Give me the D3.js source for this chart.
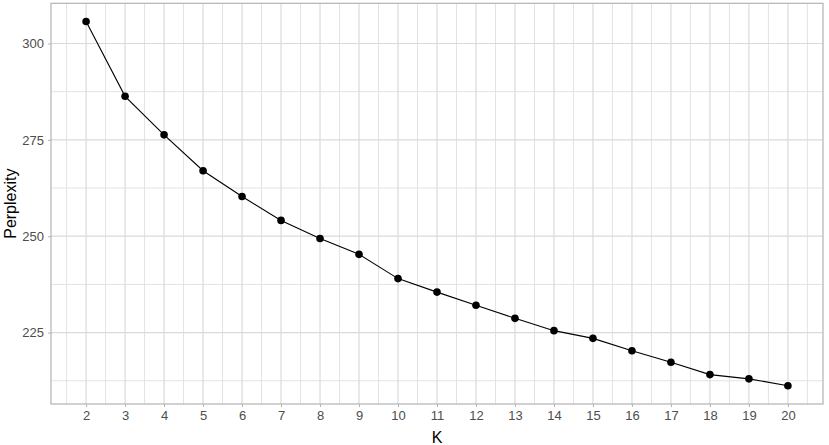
<!DOCTYPE html>
<html>
<head>
<meta charset="utf-8">
<script src="https://cdn.jsdelivr.net/npm/d3@7"></script>
<style>
  body { margin: 0; background: #fff; }
  text { font-family: "Liberation Sans", Arial, sans-serif; }
</style>
</head>
<body>
<script>
// K values and perplexity
const kValues = [2, 3, 4, 5, 6, 7, 8, 9, 10, 11, 12, 13, 14, 15, 16, 17, 18, 19, 20];
const perplexity = [305.7, 286.3, 276.3, 267.0, 260.3, 254.1, 249.4, 245.3, 239.0, 235.5,
                    232.1, 228.7, 225.5, 223.5, 220.3, 217.3, 214.1, 213.0, 211.2];
const yTicks = [225, 250, 275, 300];
const yMinor = [212.5, 237.5, 262.5, 287.5];

const W = 829, H = 445;
const margin = {top: 3.3, right: 6, bottom: 41, left: 51};
const width = W - margin.left - margin.right,
      height = H - margin.top - margin.bottom;

const data = kValues.map((k, i) => ({k: k, p: perplexity[i]}));

const svg = d3.select("body").append("svg")
    .attr("width", W)
    .attr("height", H);

const g = svg.append("g")
    .attr("transform", "translate(" + margin.left + "," + margin.top + ")");

// ggplot style 5% expansion
const xPad = (d3.max(kValues) - d3.min(kValues)) * 0.05;
const yExt = d3.extent(perplexity);
const yPad = (yExt[1] - yExt[0]) * 0.05;

const x = d3.scaleLinear()
    .domain([d3.min(kValues) - xPad, d3.max(kValues) + xPad])
    .range([0, width]);
const y = d3.scaleLinear()
    .domain([yExt[0] - yPad, yExt[1] + yPad])
    .range([height, 0]);

// minor grid
const xMinor = kValues.slice(0, -1).map(k => k + 0.5).concat([kValues[0] - 0.5, d3.max(kValues) + 0.5]);
g.selectAll(".xminor").data(xMinor).enter().append("line")
    .attr("x1", d => x(d)).attr("x2", d => x(d))
    .attr("y1", 0).attr("y2", height)
    .attr("stroke", "#e3e3e3").attr("stroke-width", 1);
g.selectAll(".yminor").data(yMinor).enter().append("line")
    .attr("x1", 0).attr("x2", width)
    .attr("y1", d => y(d)).attr("y2", d => y(d))
    .attr("stroke", "#e3e3e3").attr("stroke-width", 1);

// major grid
g.selectAll(".xmajor").data(kValues).enter().append("line")
    .attr("x1", d => x(d)).attr("x2", d => x(d))
    .attr("y1", 0).attr("y2", height)
    .attr("stroke", "#dadada").attr("stroke-width", 1.2);
g.selectAll(".ymajor").data(yTicks).enter().append("line")
    .attr("x1", 0).attr("x2", width)
    .attr("y1", d => y(d)).attr("y2", d => y(d))
    .attr("stroke", "#dadada").attr("stroke-width", 1.2);

// axes
const xAxis = d3.axisBottom(x).tickValues(kValues).tickFormat(d3.format("d")).tickSize(3).tickPadding(4);
const yAxis = d3.axisLeft(y).tickValues(yTicks).tickSize(3).tickPadding(4);

const gx = g.append("g").attr("transform", "translate(0," + height + ")").call(xAxis);
const gy = g.append("g").call(yAxis);
[gx, gy].forEach(a => {
  a.select(".domain").remove();
  a.selectAll(".tick line").attr("stroke", "#b3b3b3");
  a.selectAll(".tick text")
      .attr("fill", "#4d4d4d")
      .style("font-size", "13px")
      .style("font-family", "'Liberation Sans', Arial, sans-serif");
});

// panel border
g.append("rect")
    .attr("x", 0).attr("y", 0)
    .attr("width", width).attr("height", height)
    .attr("fill", "none")
    .attr("stroke", "#b3b3b3")
    .attr("stroke-width", 1.2);

// line and points
const line = d3.line().x(d => x(d.k)).y(d => y(d.p));
g.append("path")
    .datum(data)
    .attr("d", line)
    .attr("fill", "none")
    .attr("stroke", "#000")
    .attr("stroke-width", 1.1);

g.selectAll(".dot").data(data).enter().append("circle")
    .attr("cx", d => x(d.k))
    .attr("cy", d => y(d.p))
    .attr("r", 3.8)
    .attr("fill", "#000");

// axis titles
svg.append("text")
    .attr("x", margin.left + width / 2)
    .attr("y", 443)
    .attr("text-anchor", "middle")
    .style("font-size", "16px")
    .attr("fill", "#000")
    .text("K");

svg.append("text")
    .attr("transform", "translate(16," + (margin.top + height / 2) + ") rotate(-90)")
    .attr("text-anchor", "middle")
    .style("font-size", "16px")
    .attr("fill", "#000")
    .text("Perplexity");
</script>
</body>
</html>
